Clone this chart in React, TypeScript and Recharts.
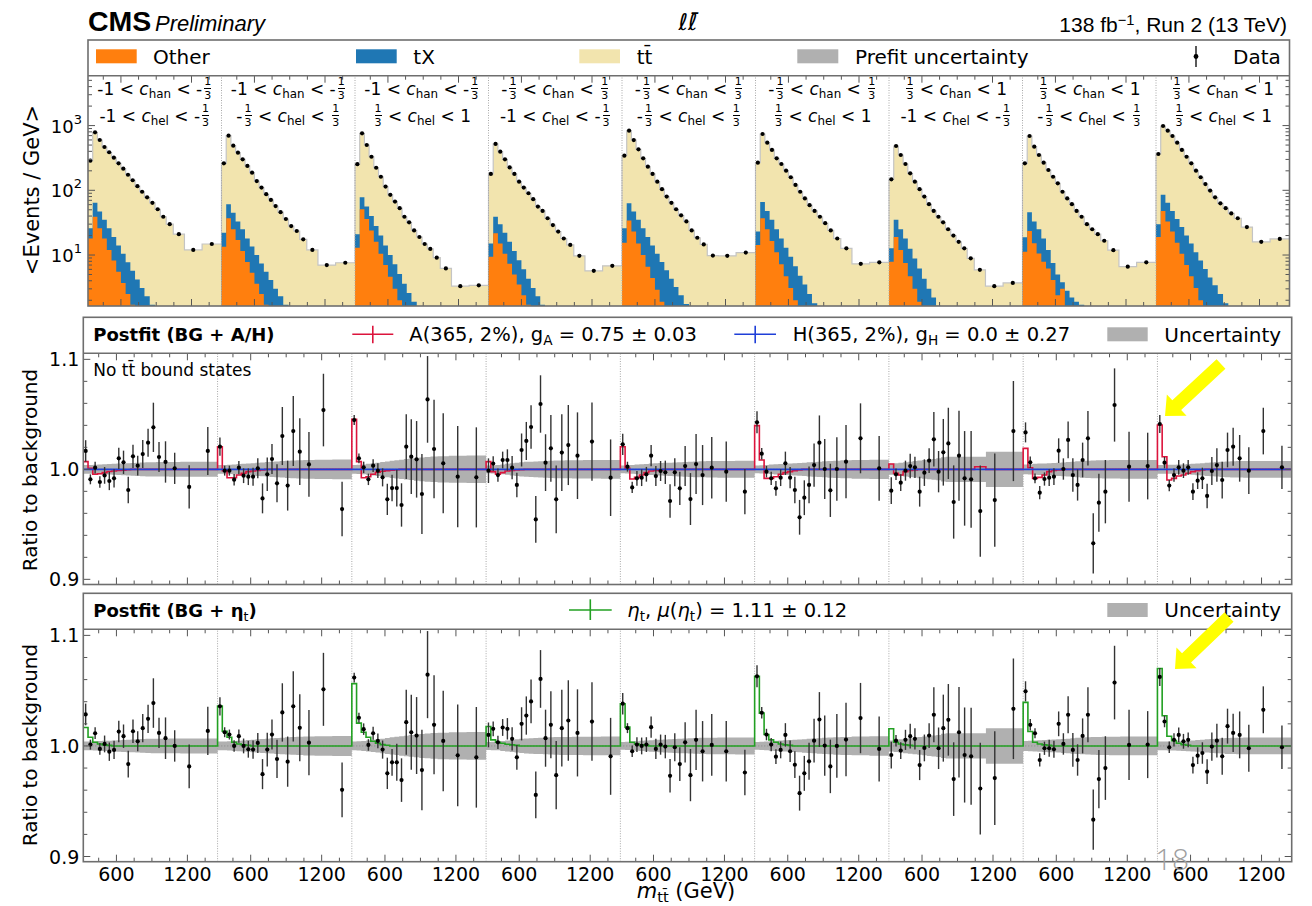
import React from "react";
import { ComposedChart, Area, Line, Scatter, ErrorBar, XAxis, YAxis, ReferenceLine } from "recharts";

// unrolled m_tt axis: 9 (c_han, c_hel) blocks, each one 320-1455 GeV
const SEG_SPAN = 1135;
const M_MIN = 320;
const N_SEG = 9;
const X_MAX = N_SEG * SEG_SPAN;

const binEdges = [320, 360, 400, 440, 480, 520, 560, 600, 640, 680, 720, 760, 800, 845, 890, 935, 985, 1045, 1140, 1290, 1455];
const xTickMass = [450, 600, 750, 900, 1050, 1200, 1350];
const xLabelMass = [600, 1200];

const cutEdges = ["-1", "-1/3", "1/3", "1"];
const hanBin = [0, 0, 0, 1, 1, 1, 2, 2, 2];
const helBin = [0, 1, 2, 0, 1, 2, 0, 1, 2];

// <Events / GeV>, data (the tt stack top sits on the data points)
const yieldData = [
  [287, 787, 599, 467, 387, 319, 261, 216, 174, 143, 116, 95, 78, 64, 51, 39, 30, 21, 12, 14.8],
  [261, 698, 489, 381, 301, 238, 187, 139, 110, 87, 71, 57, 46, 36, 28, 23.5, 17.5, 12, 7.0, 7.6],
  [253, 760, 501, 330, 223, 162, 114, 85, 67, 53, 39, 32, 24, 19, 14.8, 12.4, 9.1, 6.2, 3.3, 3.4],
  [179, 520, 395, 301, 226, 179, 136, 110, 90, 73, 56, 48, 37, 29, 23, 18, 14.3, 9.7, 5.7, 6.8],
  [343, 834, 598, 430, 312, 232, 179, 136, 104, 80, 64, 51, 41, 33, 24, 18.5, 14.6, 9.8, 9.7, 10.9],
  [267, 741, 544, 420, 312, 255, 201, 159, 121, 95, 75, 59, 48, 39, 31, 24, 18, 12.7, 7.3, 7.7],
  [148, 484, 351, 255, 183, 136, 104, 80, 61, 48, 39, 32, 25, 20, 16, 12.7, 8.9, 5.9, 3.3, 3.7],
  [261, 690, 472, 351, 267, 206, 162, 128, 95, 75, 61, 48, 39, 30, 25, 21, 16.6, 11.9, 6.6, 7.7],
  [364, 986, 834, 690, 544, 420, 330, 261, 201, 159, 125, 99, 78, 63, 53, 44, 37, 27, 16, 17.7],
];
// cumulative Other + tX (only the visible bins)
const stackTX = [
  [26, 64, 47, 35, 26, 19, 14, 10.5, 7.7, 5.7, 4.2, 3.1, 2.3, 1.7],
  [22, 61, 45, 33, 25, 18, 13.5, 10, 7.4, 5.5, 4.1, 3.0, 2.3, 1.7],
  [21, 78, 56, 40, 28, 20, 14, 10, 7.2, 5.1, 3.6, 2.6, 1.9],
  [15, 39, 30, 22, 16, 11.5, 8.3, 6, 4.3, 3.1, 2.3, 1.7],
  [26, 63, 47, 35, 26, 19, 14, 10.5, 7.8, 5.8, 4.3, 3.2, 2.4, 1.75],
  [23, 66, 48, 35, 25, 18, 13, 9.4, 6.7, 4.8, 3.5, 2.5, 1.8],
  [12.7, 35, 25, 18, 12.5, 8.8, 6.2, 4.3, 3.0, 2.2, 1.65],
  [18.8, 46, 33, 25, 18, 12, 7.5, 5, 3.8, 2.8, 2.2, 1.9, 1.7],
  [30, 85, 64, 48, 36, 27, 20, 15, 11, 8.2, 6.1, 4.5, 3.4, 2.5, 1.8],
];
const stackOther = [
  [18, 39, 26, 18, 12, 8.2, 5.5, 3.7, 2.5, 1.7],
  [13.4, 37, 25, 17, 11.5, 7.8, 5.3, 3.6, 2.5, 1.7],
  [13, 51, 36, 24, 16, 10.5, 7, 4.6, 3, 2],
  [9.4, 21.6, 15, 10.5, 7.3, 5, 3.5, 2.4, 1.7],
  [15.5, 34, 23, 15, 10, 6.6, 4.4, 2.9, 1.9],
  [14.3, 37, 25, 16.5, 11, 7.2, 4.7, 3.1, 2.0],
  [7.9, 19, 12, 7.5, 4.7, 3.0, 1.9],
  [11.2, 23.5, 15.2, 10.6, 7.9, 6.2, 4.1, 2.4, 3.0],
  [19, 48, 33, 23, 15.5, 10.5, 7, 4.7, 3.1, 2.0],
];
const OFF_SCALE = 1; // below the log axis floor

// data / postfit background, BG + A/H fit
const ratioAH = [
  [1.0167, 0.9909, 1.0015, 0.9885, 0.9945, 0.9894, 0.9918, 1.01, 1.0064, 0.9812, 1.0118, 1.0033, 1.0139, 1.0242, 1.0382, 1.0112, 1.0067, 1.0009, 0.984, 1.0167],
  [1.0206, 0.9988, 0.9988, 0.9906, 1.0015, 0.9942, 0.9933, 0.9933, 1.0009, 0.9736, 0.9955, 1.0094, 0.9873, 1.0303, 0.9852, 1.0348, 1.0161, 1.0045, 1.0539, 0.9639],
  [1.0448, 1.01, 1.0018, 0.9909, 1.0033, 0.9988, 0.9927, 0.9727, 0.983, 0.983, 0.9676, 1.0206, 1.0115, 1.0091, 0.9776, 1.0636, 1.0185, 1.0055, 0.9933, 0.9927],
  [0.9988, 1.0052, 0.9948, 1.0085, 1.0085, 1.0015, 0.9858, 1.0176, 1.0258, 1.0385, 0.9545, 1.0594, 1.0061, 1.0191, 0.9727, 1.0152, 1.0221, 1.0124, 1.0252, 0.9924],
  [1.0227, 1.0024, 0.9836, 0.9918, 0.9924, 0.9955, 1.0124, 0.9939, 0.9985, 0.9973, 0.9712, 0.9973, 0.9827, 1.003, 0.973, 1.0048, 0.9948, 1.0015, 0.9979, 0.9797],
  [1.0427, 1.0142, 0.9979, 0.9918, 0.9827, 0.9924, 1.0055, 0.9924, 0.9812, 0.9564, 0.9742, 0.9858, 1.0039, 1.0242, 1.0003, 0.9809, 1.0003, 1.007, 1.0282, 1.0009],
  [0.9806, 0.9955, 0.9879, 0.9988, 1.003, 1.0018, 0.9797, 0.997, 1.0079, 1.0273, 0.9979, 1.0155, 1.0236, 0.9703, 1.0124, 0.9918, 0.9909, 0.9621, 0.9721, 1.0348],
  [1.0336, 1.0064, 0.9918, 0.9788, 0.9912, 0.9924, 0.9933, 1.017, 1.0003, 1.0267, 0.9948, 0.9858, 1.0085, 1.0282, 0.9327, 0.9697, 0.9797, 1.0585, 1.0024, 1.003],
  [1.0412, 1.0061, 0.9852, 0.9948, 1.0018, 0.9988, 1.0018, 0.9797, 0.9897, 0.9918, 0.9758, 0.9985, 1.0039, 0.9903, 1.0176, 1.0206, 1.01, 0.9988, 1.0348, 1.0018],
];
// data / postfit background, BG + eta_t fit
const ratioEta = [
  [1.0285, 1.0012, 1.0115, 0.9973, 1.0018, 0.9948, 0.9964, 1.013, 1.0088, 0.9836, 1.0133, 1.0042, 1.0161, 1.0245, 1.0388, 1.0118, 1.007, 1.0, 0.9815, 1.0136],
  [1.0358, 1.0124, 1.0103, 1.0, 1.0088, 1.0, 0.997, 0.9967, 1.0027, 0.9745, 0.9967, 1.0103, 0.9882, 1.0303, 0.9858, 1.0358, 1.0164, 1.003, 1.0512, 0.9603],
  [1.0618, 1.0255, 1.0152, 1.0009, 1.0115, 1.0045, 0.9967, 0.9752, 0.9852, 0.9852, 0.9691, 1.0215, 1.0124, 1.0094, 0.9782, 1.0645, 1.0191, 1.0045, 0.9915, 0.9897],
  [1.01, 1.0155, 1.0033, 1.0167, 1.0155, 1.0064, 0.9897, 1.02, 1.0275, 1.0403, 0.9557, 1.0606, 1.007, 1.0191, 0.9736, 1.0161, 1.023, 1.0118, 1.022, 0.9906],
  [1.0382, 1.0161, 0.9952, 1.0012, 1.0, 1.0012, 1.017, 0.9973, 1.0012, 0.9994, 0.973, 0.9988, 0.9836, 1.0033, 0.9736, 1.0055, 0.9952, 1.0009, 0.9952, 0.976],
  [1.063, 1.03, 1.0103, 1.0012, 0.9903, 0.9964, 1.01, 0.9952, 0.983, 0.9573, 0.9752, 0.9861, 1.0048, 1.0239, 1.0003, 0.9815, 1.0, 1.0058, 1.0252, 0.9973],
  [0.9918, 1.0048, 0.9958, 1.0055, 1.0088, 1.0064, 0.9827, 0.9982, 1.0094, 1.0282, 0.9979, 1.0161, 1.0236, 0.97, 1.0124, 0.9918, 0.9906, 0.9615, 0.9709, 1.0336],
  [1.0494, 1.0191, 1.0115, 0.9873, 0.9979, 0.9979, 0.997, 1.02, 1.0018, 1.0282, 0.9964, 0.9873, 1.0091, 1.0282, 0.9333, 0.97, 0.98, 1.0573, 1.0009, 1.0012],
  [1.0624, 1.0221, 0.9988, 1.0055, 1.01, 1.0042, 1.0055, 0.9827, 0.9912, 0.9936, 0.9767, 0.9994, 1.0048, 0.9906, 1.0179, 1.0118, 1.01, 0.9979, 1.0327, 0.9988],
];
const ratioErr = [
  [0.0098, 0.0045, 0.0053, 0.0053, 0.0076, 0.0083, 0.0083, 0.0097, 0.0106, 0.0121, 0.0106, 0.009, 0.0127, 0.0127, 0.0224, 0.0136, 0.0188, 0.0142, 0.0197, 0.0218],
  [0.0083, 0.0045, 0.0045, 0.0052, 0.006, 0.0067, 0.0076, 0.0082, 0.0091, 0.0136, 0.0152, 0.0136, 0.0173, 0.0264, 0.0227, 0.0318, 0.0303, 0.0294, 0.033, 0.0248],
  [0.0045, 0.0045, 0.0052, 0.0052, 0.0058, 0.0067, 0.0082, 0.0142, 0.0121, 0.0167, 0.0197, 0.0294, 0.034, 0.0348, 0.0364, 0.0394, 0.0448, 0.0455, 0.046, 0.0455],
  [0.0112, 0.0067, 0.006, 0.0076, 0.0097, 0.0106, 0.0112, 0.0150, 0.0173, 0.0197, 0.0212, 0.0261, 0.0258, 0.0303, 0.0309, 0.0348, 0.0364, 0.0394, 0.0355, 0.0348],
  [0.0097, 0.0045, 0.0052, 0.0067, 0.0076, 0.0067, 0.0097, 0.0091, 0.0091, 0.0106, 0.0152, 0.0127, 0.0152, 0.0182, 0.0236, 0.0273, 0.0273, 0.0279, 0.0273, 0.0206],
  [0.01, 0.0052, 0.0052, 0.006, 0.0067, 0.0076, 0.0106, 0.0097, 0.0121, 0.0158, 0.0158, 0.0167, 0.0197, 0.0248, 0.0273, 0.0242, 0.0288, 0.0333, 0.0318, 0.0294],
  [0.0121, 0.0052, 0.0076, 0.0091, 0.0112, 0.0097, 0.0136, 0.0121, 0.0112, 0.0248, 0.0188, 0.0303, 0.0324, 0.0333, 0.0409, 0.043, 0.0439, 0.0415, 0.0424, 0.0455],
  [0.0091, 0.0052, 0.0045, 0.006, 0.006, 0.0076, 0.0076, 0.0112, 0.0097, 0.0167, 0.0152, 0.0142, 0.0158, 0.0248, 0.0273, 0.0264, 0.0288, 0.0333, 0.0318, 0.0303],
  [0.0082, 0.0052, 0.0052, 0.006, 0.0067, 0.0067, 0.0067, 0.0076, 0.0076, 0.0097, 0.0112, 0.0127, 0.0152, 0.0167, 0.0158, 0.0173, 0.0212, 0.0212, 0.0212, 0.0197],
];
// half width of the postfit uncertainty band
const bandHalf = [
  [0.004, 0.004, 0.0042, 0.0044, 0.0046, 0.0048, 0.005, 0.0052, 0.0054, 0.0056, 0.0058, 0.006, 0.0062, 0.0064, 0.0065, 0.0066, 0.0066, 0.0067, 0.0068, 0.0068],
  [0.004, 0.004, 0.0042, 0.0045, 0.0048, 0.005, 0.0053, 0.0056, 0.006, 0.0063, 0.0066, 0.0069, 0.0072, 0.0075, 0.0078, 0.008, 0.0083, 0.0086, 0.0088, 0.009],
  [0.004, 0.0042, 0.0045, 0.005, 0.0055, 0.006, 0.0066, 0.0072, 0.0078, 0.0083, 0.0088, 0.0093, 0.0098, 0.0103, 0.0108, 0.0112, 0.0116, 0.012, 0.0123, 0.0125],
  [0.0036, 0.0038, 0.004, 0.0045, 0.005, 0.0055, 0.006, 0.0064, 0.0068, 0.007, 0.0072, 0.0074, 0.0076, 0.0078, 0.008, 0.0081, 0.0082, 0.0083, 0.0084, 0.0085],
  [0.0035, 0.0037, 0.004, 0.0043, 0.0046, 0.0049, 0.0052, 0.0055, 0.0057, 0.0059, 0.0061, 0.0063, 0.0065, 0.0067, 0.0069, 0.0071, 0.0073, 0.0075, 0.0076, 0.0077],
  [0.0035, 0.0037, 0.004, 0.0043, 0.0046, 0.0049, 0.0051, 0.0053, 0.0055, 0.0058, 0.0061, 0.0064, 0.0067, 0.007, 0.0073, 0.0076, 0.0079, 0.0082, 0.0085, 0.0088],
  [0.005, 0.0055, 0.006, 0.0065, 0.007, 0.0075, 0.008, 0.0085, 0.009, 0.0095, 0.01, 0.011, 0.0114, 0.0114, 0.0114, 0.0114, 0.0114, 0.0114, 0.016, 0.016],
  [0.0045, 0.0047, 0.005, 0.0052, 0.0054, 0.0056, 0.0058, 0.006, 0.0063, 0.0066, 0.007, 0.0073, 0.0076, 0.0078, 0.008, 0.0082, 0.0083, 0.0084, 0.0085, 0.0085],
  [0.004, 0.004, 0.0041, 0.0042, 0.0043, 0.0045, 0.0048, 0.005, 0.0053, 0.0056, 0.006, 0.0063, 0.0066, 0.0069, 0.0072, 0.0074, 0.0075, 0.0076, 0.0076, 0.0076],
];
// signal+bg / bg, leading bins only (the rest sits at 1)
const sigA = [
  [1.007, 1.001, 0.9955, 0.996, 0.997, 0.998, 0.9985, 0.999, 0.9993, 0.9996],
  [1.0206, 0.9988, 0.9924, 0.9924, 0.9948, 0.9964, 0.9979, 0.9985, 0.999, 0.9994],
  [1.0455, 1.007, 0.9924, 0.9933, 0.9955, 0.9973, 0.9982, 0.9988, 0.9993, 0.9996],
  [1.007, 0.9979, 0.9955, 0.997, 0.9985, 0.999, 0.9994, 0.9997],
  [1.0206, 1.0009, 0.9912, 0.9927, 0.9948, 0.997, 0.9985, 0.999, 0.9994],
  [1.0397, 1.0085, 0.9918, 0.9918, 0.9933, 0.9955, 0.997, 0.9979, 0.9988, 0.9994],
  [1.0048, 0.9964, 0.9948, 0.9979, 0.999, 0.9995, 1, 1, 1, 1, 1, 1, 1, 1, 1, 1, 1, 1.0024],
  [1.0191, 1.0015, 0.9918, 0.9927, 0.9948, 0.9979, 0.999, 0.9995],
  [1.0403, 1.0115, 0.9903, 0.9918, 0.9939, 0.9948, 0.9964, 0.9979, 0.9988, 0.9994],
];
const H_RATIO = 1.0; // g_H = 0
const sigEta = [
  [1.0167, 1.0079, 1.0033, 1.0018, 1.001, 1.0005],
  [1.036, 1.0133, 1.0079, 1.0033, 1.0018, 1.001, 1.0005],
  [1.0564, 1.0206, 1.0124, 1.0079, 1.0042, 1.0024, 1.0012, 1.0006],
  [1.0176, 1.0055, 1.0033, 1.0024, 1.0015, 1.001, 1.0005],
  [1.0382, 1.017, 1.0033, 1.0018, 1.001, 1.0005],
  [1.063, 1.0297, 1.0103, 1.0055, 1.0033, 1.0018, 1.001, 1.0005],
  [1.0155, 1.0033, 1.0018, 1.001, 1.0005],
  [1.0394, 1.013, 1.0033, 1.0018, 1.001, 1.0005],
  [1.07, 1.0273, 1.0088, 1.0048, 1.0024, 1.0012, 1.0006],
];

const FONT = "'DejaVu Sans', sans-serif";
const HELV = "'Liberation Sans', Arial, sans-serif";
const C_OTHER = "#ff7f0e";
const C_TX = "#1f77b4";
const C_TT = "#f2e4ae";
const C_UNC = "#b0b0b0";
const C_A = "#dc143c";
const C_H = "#1f3fd8";
const C_ETA = "#22a022";
const FRAME = "#6e6e6e";
const TICK = "#555";

const gx = (k: number, m: number) => k * SEG_SPAN + (m - M_MIN);
const centers = binEdges.slice(0, -1).map((e, i) => (e + binEdges[i + 1]) / 2);
const xTicks = Array.from({ length: N_SEG }, (_, k) => xTickMass.map((m) => gx(k, m))).flat();
const segBounds = Array.from({ length: N_SEG - 1 }, (_, k) => (k + 1) * SEG_SPAN);
const logTicks = [1, 10, 100, 1000]
  .flatMap((d) => [1, 2, 3, 4, 5, 6, 7, 8, 9].map((f) => f * d))
  .filter((v) => v >= 1.63 && v <= 5900);
const ratioTicks = [0.9, 0.92, 0.94, 0.96, 0.98, 1.0, 1.02, 1.04, 1.06, 1.08, 1.1];

const topRows: any[] = [];
const ratioRows: any[] = [];
for (let k = 0; k < N_SEG; k++) {
  for (let i = 0; i < binEdges.length - 1; i++) {
    const x = gx(k, binEdges[i]);
    topRows.push({ x, tt: yieldData[k][i], tx: stackTX[k][i] ?? OFF_SCALE, oth: stackOther[k][i] ?? OFF_SCALE });
    const h = bandHalf[k][i];
    ratioRows.push({ x, band: [1 - h, 1 + h], a: sigA[k][i] ?? 1, hh: H_RATIO, eta: sigEta[k][i] ?? 1 });
  }
}
topRows.push({ ...topRows[topRows.length - 1], x: X_MAX });
ratioRows.push({ ...ratioRows[ratioRows.length - 1], x: X_MAX });

const topPts = yieldData.flatMap((seg, k) => seg.map((v, i) => ({ x: gx(k, centers[i]), y: v })));
const ahPts = ratioAH.flatMap((seg, k) => seg.map((v, i) => ({ x: gx(k, centers[i]), y: v, err: ratioErr[k][i] })));
const etaPts = ratioEta.flatMap((seg, k) => seg.map((v, i) => ({ x: gx(k, centers[i]), y: v, err: ratioErr[k][i] })));

type Box = { l: number; r: number; t: number; b: number };
const TOP_BOX: Box = { l: 88, r: 1289.5, t: 75.7, b: 306 };
const AH_BOX: Box = { l: 83.3, r: 1291.7, t: 53.3, b: 284.5 };
const ETA_BOX: Box = { l: 83.3, r: 1291.7, t: 39.3, b: 271.7 };

const dot = (p: any) => <circle cx={p.cx} cy={p.cy} r={2.1} fill="#000" />;

function makeXTick(box: Box, withLabels: boolean) {
  return (p: any) => {
    const m = (p.payload.value % SEG_SPAN) + M_MIN;
    const major = xLabelMass.includes(m);
    const len = major ? 7 : 4;
    return (
      <g>
        <line x1={p.x} x2={p.x} y1={box.b} y2={box.b - len} stroke={TICK} />
        <line x1={p.x} x2={p.x} y1={box.t} y2={box.t + len} stroke={TICK} />
        {withLabels && major && (
          <text x={p.x} y={box.b + 12} textAnchor="middle" dominantBaseline="central" fontSize={19} fontFamily={FONT} fill="#000">
            {m}
          </text>
        )}
      </g>
    );
  };
}

function makeLogTick(box: Box) {
  return (p: any) => {
    const e = Math.log10(p.payload.value);
    const major = Math.abs(e - Math.round(e)) < 1e-6;
    const len = major ? 7 : 4;
    return (
      <g>
        <line x1={box.l} x2={box.l + len} y1={p.y} y2={p.y} stroke={TICK} />
        <line x1={box.r} x2={box.r - len} y1={p.y} y2={p.y} stroke={TICK} />
        {major && (
          <text x={box.l - 6} y={p.y + 7} textAnchor="end" fontSize={18} fontFamily={FONT} fill="#000">
            10<tspan fontSize={13} dy={-9}>{Math.round(e)}</tspan>
          </text>
        )}
      </g>
    );
  };
}

function makeRatioTick(box: Box) {
  return (p: any) => {
    const v = p.payload.value;
    const major = Math.abs(v * 10 - Math.round(v * 10)) < 1e-6;
    const len = major ? 7 : 4;
    return (
      <g>
        <line x1={box.l} x2={box.l + len} y1={p.y} y2={p.y} stroke={TICK} />
        <line x1={box.r} x2={box.r - len} y1={p.y} y2={p.y} stroke={TICK} />
        {major && (
          <text x={box.l - 4} y={p.y} textAnchor="end" dominantBaseline="central" fontSize={19} fontFamily={FONT} fill="#000">
            {v.toFixed(1)}
          </text>
        )}
      </g>
    );
  };
}

function TopPanel() {
  const b = TOP_BOX;
  return (
    <div style={{ position: "absolute", left: 0, top: 0 }}>
      <ComposedChart width={1312} height={320} data={topRows} margin={{ top: b.t, right: 1312 - b.r, bottom: 320 - b.b, left: b.l - 60 }}>
        <XAxis dataKey="x" type="number" domain={[0, X_MAX]} ticks={xTicks} interval={0} allowDataOverflow mirror axisLine={false} tickLine={false} tick={makeXTick(b, false)} />
        <YAxis type="number" scale="log" domain={[1.63, 5900]} ticks={logTicks} interval={0} allowDataOverflow width={60} axisLine={false} tickLine={false} tick={makeLogTick(b)} />
        {segBounds.map((s) => (
          <ReferenceLine key={s} x={s} stroke="#a8a8a8" strokeDasharray="1 1.5" />
        ))}
        <Area type="stepAfter" dataKey="tt" fill={C_TT} fillOpacity={1} stroke="#c4c4c4" strokeWidth={1.2} dot={false} activeDot={false} isAnimationActive={false} />
        <Area type="stepAfter" dataKey="tx" fill={C_TX} fillOpacity={1} stroke="none" dot={false} activeDot={false} isAnimationActive={false} />
        <Area type="stepAfter" dataKey="oth" fill={C_OTHER} fillOpacity={1} stroke="none" dot={false} activeDot={false} isAnimationActive={false} />
        <Scatter data={topPts} dataKey="y" shape={dot} isAnimationActive={false} />
      </ComposedChart>
    </div>
  );
}

function RatioPanel({ top, height, box, pts, lines, labels }: any) {
  const xh = labels ? 30 : 0;
  return (
    <div style={{ position: "absolute", left: 0, top }}>
      <ComposedChart width={1312} height={height} data={ratioRows} margin={{ top: box.t, right: 1312 - box.r, bottom: height - box.b - xh, left: box.l - 60 }}>
        <XAxis dataKey="x" type="number" domain={[0, X_MAX]} ticks={xTicks} interval={0} allowDataOverflow mirror={!labels} height={30} axisLine={false} tickLine={false} tick={makeXTick(box, labels)} />
        <YAxis type="number" domain={[0.8953, 1.1055]} ticks={ratioTicks} interval={0} allowDataOverflow width={60} axisLine={false} tickLine={false} tick={makeRatioTick(box)} />
        <Area type="stepAfter" dataKey="band" fill={C_UNC} fillOpacity={1} stroke="none" dot={false} activeDot={false} isAnimationActive={false} />
        <ReferenceLine y={1} stroke="#888" strokeDasharray="1 2" />
        {segBounds.map((s) => (
          <ReferenceLine key={s} x={s} stroke="#a8a8a8" strokeDasharray="1 1.5" />
        ))}
        {lines.map((l: any) => (
          <Line key={l.key} type="stepAfter" dataKey={l.key} stroke={l.color} strokeWidth={1.6} dot={false} activeDot={false} isAnimationActive={false} />
        ))}
        <Scatter data={pts} dataKey="y" shape={dot} isAnimationActive={false}>
          <ErrorBar dataKey="err" direction="y" width={0} stroke="#333" strokeWidth={1.4} />
        </Scatter>
      </ComposedChart>
    </div>
  );
}

const Sub = ({ children, style }: any) => <span style={{ fontSize: "70%", position: "relative", top: "0.32em", ...style }}>{children}</span>;
const Sup = ({ children }: any) => <span style={{ fontSize: "70%", position: "relative", top: "-0.45em" }}>{children}</span>;

function Frac() {
  return (
    <span style={{ display: "inline-block", position: "relative", width: 9, height: 1, marginLeft: 1 }}>
      <span style={{ position: "absolute", left: 0, width: 9, top: -18, fontSize: 11, lineHeight: "11px", textAlign: "center" }}>1</span>
      <span style={{ position: "absolute", left: 1, width: 7, height: 0, top: -6, borderTop: "1px solid #000" }} />
      <span style={{ position: "absolute", left: 0, width: 9, top: -4, fontSize: 11, lineHeight: "11px", textAlign: "center" }}>3</span>
    </span>
  );
}

function Bound({ v }: { v: string }) {
  if (v.endsWith("/3")) return <>{v.startsWith("-") ? "-" : ""}<Frac /></>;
  return <>{v}</>;
}

function CatLabel({ k }: { k: number }) {
  const w = (TOP_BOX.r - TOP_BOX.l) / N_SEG;
  return (
    <div style={{ position: "absolute", left: TOP_BOX.l + k * w, top: 76.6, width: w, textAlign: "center", fontSize: 17, lineHeight: "25px", whiteSpace: "nowrap" }}>
      <div>
        <Bound v={cutEdges[hanBin[k]]} /> &lt; <i>c</i><Sub>han</Sub> &lt; <Bound v={cutEdges[hanBin[k] + 1]} />
      </div>
      <div>
        <Bound v={cutEdges[helBin[k]]} /> &lt; <i>c</i><Sub>hel</Sub> &lt; <Bound v={cutEdges[helBin[k] + 1]} />
      </div>
    </div>
  );
}

function Txt({ x, cy, fs, children, style }: any) {
  return (
    <div style={{ position: "absolute", left: x, top: cy - fs * 0.58, fontSize: fs, lineHeight: `${fs * 1.2}px`, whiteSpace: "nowrap", ...style }}>
      {children}
    </div>
  );
}

function Vert({ cx, cy, fs, children }: any) {
  return (
    <div style={{ position: "absolute", left: cx, top: cy, fontSize: fs, lineHeight: 1, whiteSpace: "nowrap", transform: "translate(-50%, -50%) rotate(-90deg)" }}>
      {children}
    </div>
  );
}

function arrowPts(tip: number[], tail: number[]) {
  const dx = tail[0] - tip[0];
  const dy = tail[1] - tip[1];
  const L = Math.hypot(dx, dy);
  const ux = dx / L, uy = dy / L, px = -uy, py = ux;
  const hl = 16, hw = 14.5, sw = 6.5;
  const bx = tip[0] + ux * hl, by = tip[1] + uy * hl;
  return [
    [tip[0], tip[1]],
    [bx + px * hw, by + py * hw],
    [bx + px * sw, by + py * sw],
    [tail[0] + px * sw, tail[1] + py * sw],
    [tail[0] - px * sw, tail[1] - py * sw],
    [bx - px * sw, by - py * sw],
    [bx - px * hw, by - py * hw],
  ]
    .map((p) => p.join(","))
    .join(" ");
}

const tbar = "t\u0304";

export default function App() {
  return (
    <div style={{ position: "absolute", left: 0, top: 0, width: 1312, height: 906, background: "#fff", overflow: "hidden", fontFamily: FONT, color: "#000" }}>
      <TopPanel />
      <RatioPanel top={300} height={300} box={AH_BOX} pts={ahPts} labels={false} lines={[{ key: "a", color: C_A }, { key: "hh", color: C_H }]} />
      <RatioPanel top={590} height={316} box={ETA_BOX} pts={etaPts} labels={true} lines={[{ key: "eta", color: C_ETA }]} />

      <svg width={1312} height={906} style={{ position: "absolute", left: 0, top: 0, pointerEvents: "none" }}>
        <g fill="none" stroke={FRAME} strokeWidth={1.6}>
          <rect x={88} y={40} width={1201.5} height={266} />
          <line x1={88} x2={1289.5} y1={75.7} y2={75.7} />
          <rect x={83.3} y={317.3} width={1208.4} height={267.2} />
          <line x1={83.3} x2={1291.7} y1={353.3} y2={353.3} />
          <rect x={83.3} y={593.3} width={1208.4} height={268.4} />
          <line x1={83.3} x2={1291.7} y1={629.3} y2={629.3} />
        </g>
        <rect x={96} y={49.3} width={40.7} height={14} fill={C_OTHER} />
        <rect x={356} y={49.3} width={40.7} height={14} fill={C_TX} />
        <rect x={579.3} y={49.3} width={40.7} height={14} fill={C_TT} />
        <rect x={797.3} y={49.3} width={41} height={14} fill={C_UNC} />
        <line x1={1196} x2={1196} y1={46} y2={67} stroke="#000" strokeWidth={1.3} />
        <circle cx={1196} cy={56.5} r={2.4} fill="#000" />
        <g stroke={C_A} strokeWidth={1.6}>
          <line x1={352.3} x2={393.3} y1={334.3} y2={334.3} />
          <line x1={372.8} x2={372.8} y1={325.7} y2={343.3} />
        </g>
        <g stroke={C_H} strokeWidth={1.6}>
          <line x1={734.3} x2={776} y1={334.3} y2={334.3} />
          <line x1={755.2} x2={755.2} y1={325.7} y2={343.3} />
        </g>
        <rect x={1107.3} y={327.3} width={40.4} height={14} fill={C_UNC} />
        <g stroke={C_ETA} strokeWidth={1.6}>
          <line x1={569} x2={611.7} y1={610} y2={610} />
          <line x1={590.3} x2={590.3} y1={599.3} y2={620} />
        </g>
        <rect x={1107.3} y={603} width={40.4} height={14} fill={C_UNC} />
      </svg>

      <div style={{ position: "absolute", left: 88, top: 30.7 - 28.5 * 0.946, fontFamily: HELV, fontWeight: 700, fontSize: 28.5, lineHeight: `${28.5 * 1.2}px` }}>CMS</div>
      <div style={{ position: "absolute", left: 155, top: 31.5 - 22 * 0.946, fontFamily: HELV, fontStyle: "italic", fontSize: 22, lineHeight: `${22 * 1.2}px` }}>Preliminary</div>
      <div style={{ position: "absolute", left: 688, top: 30.7 - 23 * 0.946, fontSize: 23, lineHeight: `${23 * 1.2}px`, transform: "translateX(-50%)", fontStyle: "italic" }}>
        ℓℓ{"\u0304"}
      </div>
      <div style={{ position: "absolute", right: 1312 - 1287, top: 31.7 - 21 * 0.946, fontFamily: HELV, fontSize: 21, lineHeight: `${21 * 1.2}px`, whiteSpace: "nowrap" }}>
        138 fb<Sup>−1</Sup>, Run 2 (13 TeV)
      </div>

      <Txt x={153} cy={56.5} fs={20}>Other</Txt>
      <Txt x={413.3} cy={56.5} fs={20}>tX</Txt>
      <Txt x={636.7} cy={56.5} fs={20}>t{tbar}</Txt>
      <Txt x={855} cy={56.5} fs={20}>Prefit uncertainty</Txt>
      <Txt x={1233} cy={56.5} fs={20}>Data</Txt>
      {Array.from({ length: N_SEG }, (_, k) => (
        <CatLabel key={k} k={k} />
      ))}

      <Txt x={93.3} cy={334.3} fs={18} style={{ fontWeight: 700 }}>Postfit (BG + A/H)</Txt>
      <Txt x={409.3} cy={334.3} fs={19.5}>A(365, 2%), g<Sub>A</Sub> = 0.75 ± 0.03</Txt>
      <Txt x={792.7} cy={334.3} fs={19.5}>H(365, 2%), g<Sub>H</Sub> = 0.0 ± 0.27</Txt>
      <Txt x={1164.3} cy={334.3} fs={20}>Uncertainty</Txt>
      <Txt x={93.3} cy={370} fs={17}>No t{tbar} bound states</Txt>

      <Txt x={93.3} cy={610} fs={18} style={{ fontWeight: 700 }}>
        Postfit (BG + η<Sub style={{ fontWeight: 400 }}>t</Sub>)
      </Txt>
      <Txt x={627.3} cy={610} fs={19.5}>
        <i>η</i><Sub>t</Sub>, <i>μ</i>(<i>η</i><Sub>t</Sub>) = 1.11 ± 0.12
      </Txt>
      <Txt x={1164.3} cy={610} fs={20}>Uncertainty</Txt>

      <Vert cx={32} cy={190} fs={21}>&lt;Events / GeV&gt;</Vert>
      <Vert cx={29.5} cy={470} fs={20}>Ratio to background</Vert>
      <Vert cx={29.5} cy={745} fs={20}>Ratio to background</Vert>
      <div style={{ position: "absolute", left: 686, top: 899 - 21 * 0.946, fontSize: 21, lineHeight: `${21 * 1.2}px`, transform: "translateX(-50%)", whiteSpace: "nowrap" }}>
        <i>m</i><Sub style={{ top: "0.25em" }}>t{tbar}</Sub> (GeV)
      </div>

      <svg width={1312} height={906} style={{ position: "absolute", left: 0, top: 0, pointerEvents: "none" }}>
        <polygon points={arrowPts([1165, 416], [1221, 364])} fill="#ffff00" />
        <polygon points={arrowPts([1175, 669], [1229, 617])} fill="#ffff00" />
        <text x={1155} y={870} fontSize={30} fill="#a0a0a0" fontFamily="'Open Sans', sans-serif" fontWeight={300}>18</text>
      </svg>
    </div>
  );
}
